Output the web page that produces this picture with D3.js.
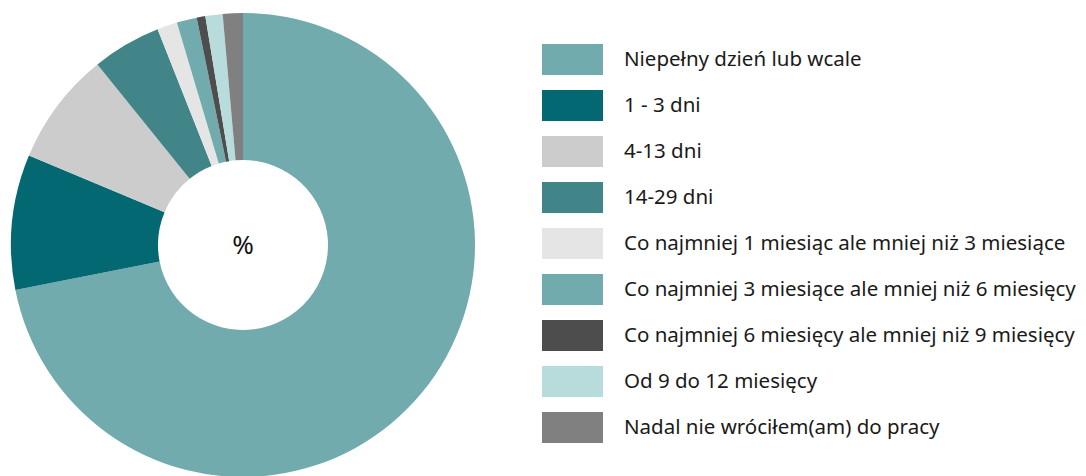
<!DOCTYPE html>
<html>
<head>
<meta charset="utf-8">
<script src="https://d3js.org/d3.v7.min.js"></script>
<style>
body { margin: 0; background: #fff; }
.legend text { font-family: "Noto Sans", sans-serif; font-size: 20.5px; fill: #1a1a1a; }
</style>
</head>
<body>
<script>
// categories and shares (%)
var labels = [
  "Niepełny dzień lub wcale",
  "1 - 3 dni",
  "4-13 dni",
  "14-29 dni",
  "Co najmniej 1 miesiąc ale mniej niż 3 miesiące",
  "Co najmniej 3 miesiące ale mniej niż 6 miesięcy",
  "Co najmniej 6 miesięcy ale mniej niż 9 miesięcy",
  "Od 9 do 12 miesięcy",
  "Nadal nie wróciłem(am) do pracy"
];
var values = [71.9, 9.4, 7.9, 4.8, 1.4, 1.4, 0.6, 1.2, 1.4];
var colors = ["#72abad", "#036872", "#cccccc", "#418589", "#e5e5e5", "#72abad", "#4d4d4d", "#b8dcdc", "#808080"];

var width = 1086, height = 476;
var cx = 243, cy = 245, outerR = 232, innerR = 85;

var svg = d3.select("body").append("svg")
    .attr("width", width)
    .attr("height", height);

var data = labels.map(function(l, i) { return {label: l, value: values[i], color: colors[i]}; });

var pie = d3.pie().value(function(d) { return d.value; }).sort(null);
var arc = d3.arc().innerRadius(innerR).outerRadius(outerR);

var g = svg.append("g").attr("transform", "translate(" + cx + "," + cy + ")");
g.selectAll("path")
  .data(pie(data))
  .enter().append("path")
  .attr("d", arc)
  .attr("fill", function(d) { return d.data.color; });

g.append("text")
  .attr("text-anchor", "middle")
  .attr("dy", "0.35em")
  .attr("font-family", "Noto Sans, sans-serif")
  .attr("font-size", "26px")
  .attr("fill", "#111")
  .text("%");

// legend
var legend = svg.selectAll(".legend")
    .data(data)
    .enter().append("g")
    .attr("class", "legend")
    .attr("transform", function(d, i) { return "translate(542," + (44 + i * 46) + ")"; });

legend.append("rect")
  .attr("width", 61).attr("height", 31)
  .attr("fill", function(d) { return d.color; });

legend.append("text")
  .attr("x", 82).attr("y", 15)
  .attr("dy", "0.35em")
  .text(function(d) { return d.label; });
</script>
</body>
</html>
